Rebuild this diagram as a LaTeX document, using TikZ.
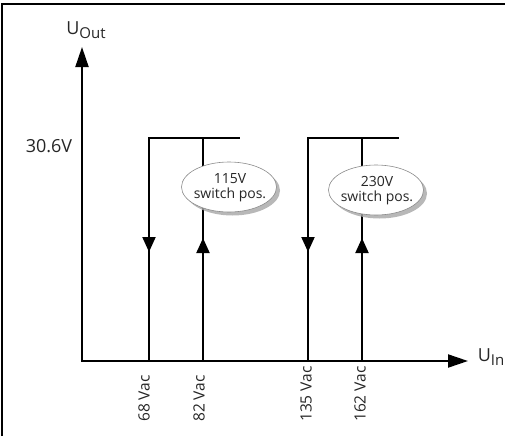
\documentclass[tikz,border=0pt]{standalone}
\usepackage{fontspec}
\setmainfont{Open Sans}
\usetikzlibrary{arrows.meta,shapes.geometric,shadows}
\begin{document}
\begin{tikzpicture}[x=1pt,y=-1pt,
  axis/.style={line width=2pt,-{Triangle[length=20pt,width=13pt]}},
  curve/.style={line width=2pt},
  dirarrow/.style={line width=2pt,-{Triangle[length=15pt,width=13pt]}},
  lbl/.style={inner sep=0pt,text=black!85,font=\fontsize{18}{20}\selectfont},
  tick/.style={inner sep=0pt,rotate=90,anchor=west,text=black!85,font=\fontsize{15.5}{17}\selectfont},
  bubble/.style={ellipse,draw=black!45,line width=0.6pt,fill=white,minimum width=95pt,minimum height=50pt,inner sep=0pt,
    drop shadow={shadow xshift=3.5pt,shadow yshift=-3.5pt,fill=black!35,opacity=0.8}},
  bubbletext/.style={inner sep=0pt,align=center,text=black!85,font=\fontsize{14}{15}\selectfont}]
\useasboundingbox (0,0) rectangle (505,436);
% frame
\coordinate (f1) at (2,436);
\coordinate (f2) at (2,4);
\coordinate (f3) at (505,4);
\draw[line width=1.2pt] (f1) -- (f2) -- (f3);
% axes
\coordinate (O) at (82,361);
\coordinate (ytip) at (82,47);
\coordinate (xtip) at (468,361);
\draw[axis] (O) -- (ytip);
\draw[axis] ([xshift=-1pt]O) -- (xtip);
\node[lbl] (uout) at (86,30) {U\raisebox{-0.4ex}{\fontsize{15}{16}\selectfont Out}};
\node[lbl] (uin) at (491,357) {U\raisebox{-0.4ex}{\fontsize{15}{16}\selectfont In}};
\node[lbl] (v306) at (49,146) {30.6V};
% hysteresis 115V
\coordinate (a1) at (149,361);
\coordinate (a1t) at (149,138);
\coordinate (e1) at (240,138);
\coordinate (b1) at (203,361);
\coordinate (b1t) at (203,138);
\draw[curve] (a1) -- (a1t) -- (e1);
\draw[curve] (b1) -- (b1t);
\coordinate (a1s) at (149,230);
\coordinate (a1e) at (149,252);
\coordinate (b1s) at (203,260);
\coordinate (b1e) at (203,238);
\draw[dirarrow] (a1s) -- (a1e);
\draw[dirarrow] (b1s) -- (b1e);
% hysteresis 230V
\coordinate (a2) at (308,361);
\coordinate (a2t) at (308,138);
\coordinate (e2) at (399,138);
\coordinate (b2) at (362,361);
\coordinate (b2t) at (362,138);
\draw[curve] (a2) -- (a2t) -- (e2);
\draw[curve] (b2) -- (b2t);
\coordinate (a2s) at (308,230);
\coordinate (a2e) at (308,252);
\coordinate (b2s) at (362,260);
\coordinate (b2e) at (362,238);
\draw[dirarrow] (a2s) -- (a2e);
\draw[dirarrow] (b2s) -- (b2e);
% bubbles
\node[bubble] (s115) at (229,187) {};
\node[bubbletext] (s115t) at ([xshift=1pt,yshift=-1pt]s115.center) {115V\\switch pos.};
\node[bubble] (s230) at (376,190) {};
\node[bubbletext] (s230t) at ([xshift=1pt,yshift=-1pt]s230.center) {230V\\switch pos.};
% tick labels
\node[tick] (t68) at (144,422) {68 Vac};
\node[tick] (t82) at (199,422) {82 Vac};
\node[tick] (t135) at (306,422) {135 Vac};
\node[tick] (t162) at (360,422) {162 Vac};
\end{tikzpicture}
\end{document}
